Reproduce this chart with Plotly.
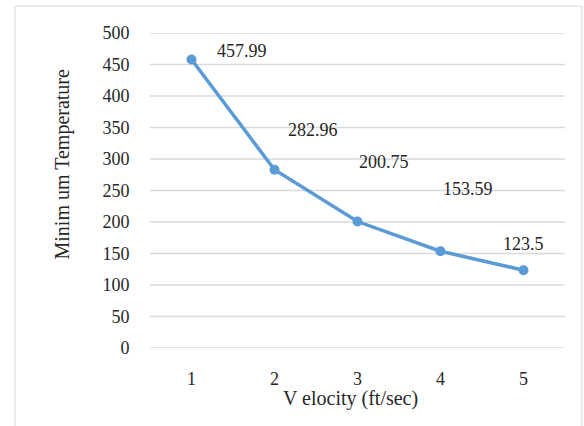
import plotly.graph_objects as go

# Minimum temperature reached at each flow velocity
velocity = [1, 2, 3, 4, 5]
min_temperature = [457.99, 282.96, 200.75, 153.59, 123.5]
y_ticks = [0, 50, 100, 150, 200, 250, 300, 350, 400, 450, 500]

# label offsets (pixels) relative to each point
label_dx = [50, 38, 26, 27, 0]
label_dy = [8, 40, 60, 62, 26]

FONT = "Liberation Serif, Times New Roman, serif"
TEXT = "#262626"
LINE = "#5B9BD5"
GRID = "#D9D9D9"
CLEAR = "rgba(0,0,0,0)"

fig = go.Figure()

# horizontal gridlines at each y tick
for t in y_ticks:
    fig.add_hline(y=t, line=dict(color=GRID, width=1.3), layer="below")

fig.add_trace(go.Scatter(
    x=velocity, y=min_temperature, mode="lines+markers",
    line=dict(color=LINE, width=3.5),
    marker=dict(color=LINE, size=10),
    showlegend=False, hoverinfo="skip",
))

for v, t, dx, dy in zip(velocity, min_temperature, label_dx, label_dy):
    fig.add_annotation(x=v, y=t, text=f"{t:g}", showarrow=False,
                       xshift=dx, yshift=dy,
                       font=dict(family=FONT, size=18, color=TEXT))

# axis titles
fig.add_annotation(x=0, y=0.5, xref="paper", yref="paper", xshift=-88,
                   yshift=26, xanchor="center", yanchor="middle",
                   text="Minim um Temperature", textangle=-90,
                   showarrow=False, font=dict(family=FONT, size=20, color=TEXT))
fig.add_annotation(x=0.5, y=0, xref="paper", yref="paper", xshift=-7,
                   yshift=-50, xanchor="center", yanchor="middle",
                   text="V elocity (ft/sec)",
                   showarrow=False, font=dict(family=FONT, size=20, color=TEXT))

# chart frame
fig.add_shape(type="rect", xref="paper", yref="paper",
              x0=-0.3253, x1=1.041, y0=-0.27, y1=1.0857,
              line=dict(color=GRID, width=1), fillcolor=CLEAR,
              layer="above")

fig.update_layout(
    width=584, height=426,
    margin=dict(l=150, r=19, t=33, b=78),
    paper_bgcolor="white", plot_bgcolor="white",
    font=dict(family=FONT, size=18, color=TEXT),
    xaxis=dict(range=[0.5, 5.5], tickmode="array", tickvals=velocity,
               showgrid=False, zeroline=False, showline=False,
               ticks="outside", ticklen=14, tickcolor=CLEAR,
               fixedrange=True),
    yaxis=dict(range=[0, 500], tickmode="array", tickvals=y_ticks,
               showgrid=False, zeroline=False, showline=False,
               ticks="outside", ticklen=16, tickcolor=CLEAR,
               fixedrange=True),
)

fig.write_html("out.html")
